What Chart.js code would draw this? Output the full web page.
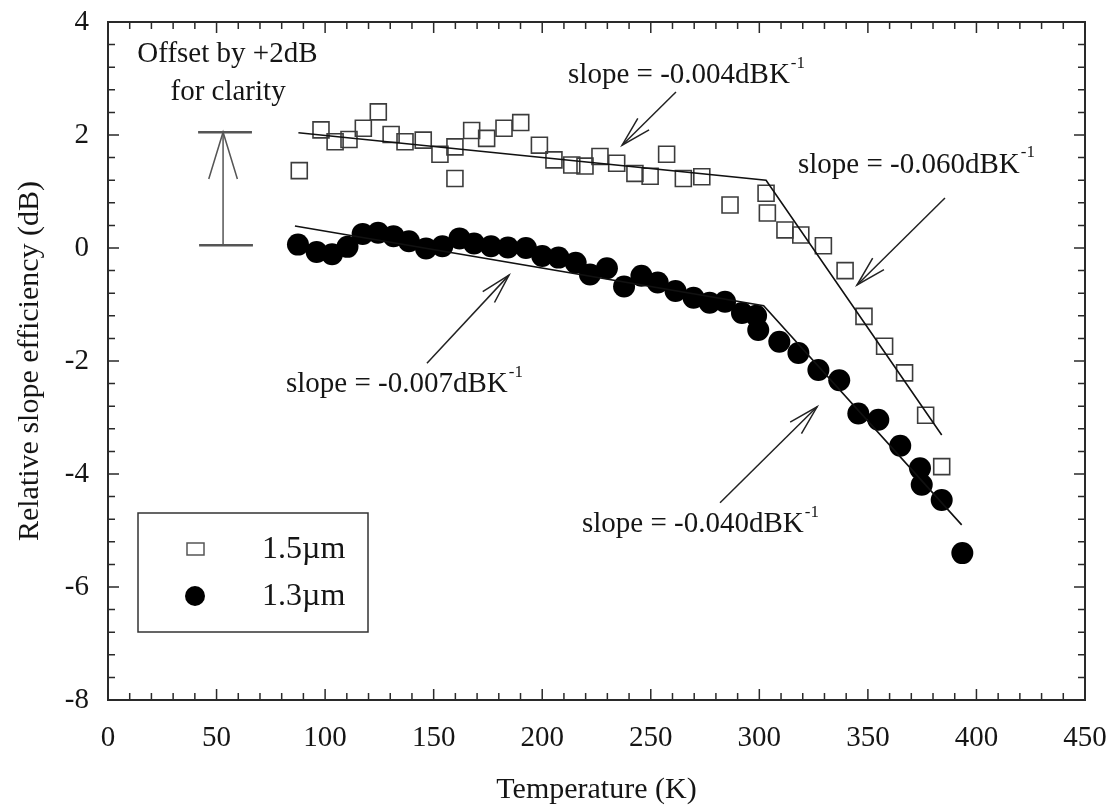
<!DOCTYPE html>
<html><head><meta charset="utf-8">
<script src="https://cdn.jsdelivr.net/npm/chart.js@4.4.0/dist/chart.umd.min.js"></script>
<style>html,body{margin:0;padding:0;background:#fff;}#wrap{width:1112px;height:809px;}</style>
</head><body><div id="wrap"><canvas id="c" width="1112" height="809"></canvas></div>
<script>
// ---- data ----
const seriesLabels = ['1.5\u00b5m', '1.3\u00b5m'];
const temps15 = [88.1, 98.1, 104.6, 111.0, 117.6, 124.5, 130.4, 136.8, 145.2, 152.9, 159.8, 159.8, 167.5, 174.4, 182.4, 190.1, 198.7, 205.4, 213.6, 219.7, 226.6, 234.3, 242.7, 249.7, 257.3, 265.0, 273.5, 286.5, 303.1, 303.7, 311.8, 319.1, 329.5, 339.5, 348.2, 357.7, 366.9, 376.6, 384.0];
const vals15  = [1.37, 2.09, 1.88, 1.92, 2.12, 2.41, 2.01, 1.88, 1.91, 1.66, 1.79, 1.23, 2.08, 1.94, 2.12, 2.22, 1.82, 1.56, 1.47, 1.45, 1.62, 1.50, 1.32, 1.27, 1.66, 1.23, 1.26, 0.76, 0.97, 0.62, 0.32, 0.23, 0.04, -0.40, -1.21, -1.74, -2.21, -2.96, -3.87];
const temps13 = [87.5, 96.1, 103.2, 110.3, 117.3, 124.4, 131.5, 138.6, 146.5, 154.0, 161.9, 168.6, 176.4, 184.2, 192.5, 200.0, 207.5, 215.4, 222.0, 229.8, 237.7, 245.7, 253.2, 261.4, 269.7, 277.1, 284.2, 292.0, 298.5, 299.5, 309.2, 318.0, 327.2, 336.8, 345.6, 354.8, 364.9, 374.0, 374.8, 384.0, 393.5];
const vals13  = [0.06, -0.07, -0.11, 0.02, 0.25, 0.27, 0.21, 0.12, -0.01, 0.03, 0.17, 0.08, 0.03, 0.01, 0.0, -0.14, -0.17, -0.26, -0.47, -0.36, -0.68, -0.49, -0.61, -0.76, -0.88, -0.97, -0.95, -1.15, -1.20, -1.45, -1.66, -1.86, -2.16, -2.34, -2.93, -3.04, -3.50, -3.90, -4.19, -4.46, -5.40];
const fit15T = [87.7, 303.1, 384.0];
const fit15V = [2.04, 1.20, -3.31];
const fit13T = [86.1, 302.0, 393.2];
const fit13V = [0.39, -1.02, -4.90];
const xTickStep = 50, xMin = 0, xMax = 450;
const yTickStep = 2, yMin = -8, yMax = 4;
const annotTexts = ['slope = -0.004dBK', 'slope = -0.060dBK', 'slope = -0.007dBK', 'slope = -0.040dBK'];
const annotSup = '-1';
const annotAt   = [[211.9, 3.06], [317.8, 1.47], [82.0, -2.42], [218.3, -4.90]];
const arrowFrom = [[261.6, 2.76], [385.5, 0.885], [146.9, -2.04], [281.9, -4.51]];
const arrowTo   = [[236.8, 1.82], [345.0, -0.655], [184.7, -0.48], [326.6, -2.81]];
const offsetText = ['Offset by +2dB', 'for clarity'];
const offsetTextAt = [[55.0, 3.42], [55.3, 2.76]];
const offsetBar = {t: 53, from: 0.05, to: 2.05, capL: 41.5, capR: 66.3};

const FONT = "'Liberation Serif', 'Times New Roman', serif";
const INK = '#151515';

const pts = (T, V) => T.map((t, i) => ({x: t, y: V[i]}));

function arrowHead(ctx, x1, y1, x2, y2, len, ang) {
  const a = Math.atan2(y1 - y2, x1 - x2);
  ctx.beginPath();
  ctx.moveTo(x2 + len * Math.cos(a + ang), y2 + len * Math.sin(a + ang));
  ctx.lineTo(x2, y2);
  ctx.lineTo(x2 + len * Math.cos(a - ang), y2 + len * Math.sin(a - ang));
  ctx.stroke();
}

const framePlugin = {
  id: 'frame',
  afterDatasetsDraw(chart) {
    const {ctx, chartArea: a, scales: {x, y}} = chart;
    ctx.save();
    ctx.strokeStyle = '#2a2a2a';
    ctx.lineWidth = 2;
    ctx.strokeRect(a.left, a.top, a.right - a.left, a.bottom - a.top);
    ctx.lineWidth = 1.5;
    ctx.beginPath();
    for (let v = xMin; v <= xMax + 1e-6; v += 10) {
      const px = x.getPixelForValue(v);
      const L = (Math.round(v) % 50 === 0) ? 11 : 7;
      ctx.moveTo(px, a.bottom); ctx.lineTo(px, a.bottom - L);
      ctx.moveTo(px, a.top); ctx.lineTo(px, a.top + L);
    }
    for (let k = 0; k <= 30; k++) {
      const v = yMin + k * 0.4;
      const py = y.getPixelForValue(v);
      const L = (k % 5 === 0) ? 11 : 7;
      ctx.moveTo(a.left, py); ctx.lineTo(a.left + L, py);
      ctx.moveTo(a.right, py); ctx.lineTo(a.right - L, py);
    }
    ctx.stroke();
    ctx.restore();
  },
  afterDraw(chart) {
    const {ctx, scales: {x, y}} = chart;
    ctx.save();
    ctx.fillStyle = INK;
    ctx.strokeStyle = '#222';
    for (let i = 0; i < annotTexts.length; i++) {
      const tx = x.getPixelForValue(annotAt[i][0]);
      const ty = y.getPixelForValue(annotAt[i][1]);
      ctx.font = '29px ' + FONT;
      ctx.textAlign = 'left';
      ctx.textBaseline = 'middle';
      ctx.fillText(annotTexts[i], tx, ty);
      const w = ctx.measureText(annotTexts[i]).width;
      ctx.font = '17px ' + FONT;
      ctx.fillText(annotSup, tx + w + 1, ty - 12);
      const x1 = x.getPixelForValue(arrowFrom[i][0]), y1 = y.getPixelForValue(arrowFrom[i][1]);
      const x2 = x.getPixelForValue(arrowTo[i][0]), y2 = y.getPixelForValue(arrowTo[i][1]);
      ctx.lineWidth = 1.5;
      ctx.beginPath(); ctx.moveTo(x1, y1); ctx.lineTo(x2, y2); ctx.stroke();
      arrowHead(ctx, x1, y1, x2, y2, 31, 15 * Math.PI / 180);
    }
    ctx.font = '29px ' + FONT;
    ctx.textAlign = 'center';
    ctx.textBaseline = 'middle';
    for (let i = 0; i < offsetText.length; i++) {
      ctx.fillText(offsetText[i], x.getPixelForValue(offsetTextAt[i][0]), y.getPixelForValue(offsetTextAt[i][1]));
    }
    const bx = x.getPixelForValue(offsetBar.t);
    const bTop = y.getPixelForValue(offsetBar.to), bBot = y.getPixelForValue(offsetBar.from);
    const cl = x.getPixelForValue(offsetBar.capL), cr = x.getPixelForValue(offsetBar.capR);
    ctx.strokeStyle = '#555';
    ctx.lineWidth = 1.5;
    ctx.beginPath(); ctx.moveTo(bx, bBot); ctx.lineTo(bx, bTop); ctx.stroke();
    arrowHead(ctx, bx, bBot, bx, bTop, 49, 17 * Math.PI / 180);
    ctx.lineWidth = 2.5;
    ctx.beginPath();
    ctx.moveTo(cl, bTop); ctx.lineTo(cr, bTop);
    ctx.moveTo(cl + 1, bBot); ctx.lineTo(cr + 1, bBot);
    ctx.stroke();
    const L = {x: 138, y: 513, w: 230, h: 119};
    ctx.strokeStyle = '#333';
    ctx.lineWidth = 1.5;
    ctx.strokeRect(L.x, L.y, L.w, L.h);
    ctx.strokeStyle = '#555';
    ctx.lineWidth = 1.5;
    ctx.strokeRect(187, 543, 17, 12);
    ctx.fillStyle = '#000';
    ctx.beginPath(); ctx.arc(195, 596, 10, 0, Math.PI * 2); ctx.fill();
    ctx.fillStyle = INK;
    ctx.font = '32px ' + FONT;
    ctx.textAlign = 'left';
    ctx.textBaseline = 'middle';
    ctx.fillText(seriesLabels[0], 262, 550);
    ctx.fillText(seriesLabels[1], 262, 597);
    ctx.restore();
  }
};

new Chart(document.getElementById('c'), {
  type: 'scatter',
  data: {
    datasets: [
      {label: 'fit15', data: pts(fit15T, fit15V), showLine: true, pointRadius: 0, borderColor: '#111', borderWidth: 1.6, fill: false},
      {label: 'fit13', data: pts(fit13T, fit13V), showLine: true, pointRadius: 0, borderColor: '#111', borderWidth: 1.6, fill: false},
      {label: seriesLabels[0], data: pts(temps15, vals15), pointStyle: 'rect', pointRadius: 11.3, borderColor: '#3c3c3c', borderWidth: 1.6, backgroundColor: 'rgba(255,255,255,0)'},
      {label: seriesLabels[1], data: pts(temps13, vals13), pointStyle: 'circle', pointRadius: 11, borderColor: '#000', borderWidth: 0, backgroundColor: '#000'}
    ]
  },
  options: {
    responsive: false, animation: false, devicePixelRatio: 1, events: [],
    layout: {padding: {top: 22, right: 27, bottom: 0, left: 0}},
    plugins: {legend: {display: false}, tooltip: {enabled: false}},
    scales: {
      x: {
        type: 'linear', position: 'bottom', min: xMin, max: xMax,
        ticks: {stepSize: xTickStep, font: {family: FONT, size: 29}, color: INK, padding: 21, maxRotation: 0, autoSkip: false},
        grid: {display: false, drawTicks: false}, border: {display: false},
        title: {display: true, text: 'Temperature (K)', font: {family: FONT, size: 30}, color: INK, padding: {top: 0, bottom: 1}},
        afterFit: s => { s.height = 109; s.paddingLeft = 0; s.paddingRight = 0; }
      },
      y: {
        type: 'linear', position: 'left', min: yMin, max: yMax,
        ticks: {stepSize: yTickStep, font: {family: FONT, size: 29}, color: INK, padding: 19, autoSkip: false},
        grid: {display: false, drawTicks: false}, border: {display: false},
        title: {display: true, text: 'Relative slope efficiency (dB)', font: {family: FONT, size: 30}, color: INK, padding: {top: 12, bottom: 0}},
        afterFit: s => { s.width = 108; s.paddingTop = 0; s.paddingBottom = 0; }
      }
    }
  },
  plugins: [framePlugin]
});
</script></body></html>
